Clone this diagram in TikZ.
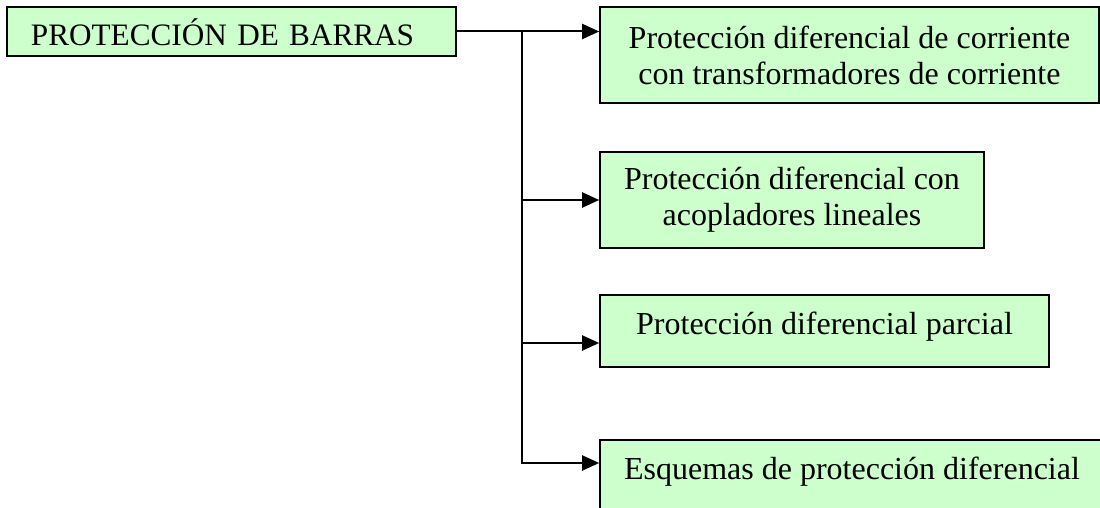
\documentclass[tikz,border=0pt]{standalone}
\usepackage{fontspec}
\setmainfont{Liberation Serif}
\usetikzlibrary{arrows.meta,calc}
\definecolor{boxgreen}{HTML}{CCFFCC}
\begin{document}
\begin{tikzpicture}[x=0.5pt,y=-0.5pt,
  box/.style={draw=black,line width=0.8pt,fill=boxgreen,rectangle,inner sep=0pt,
    font=\fontsize{16}{18}\selectfont,align=center},
  conn/.style={line width=1pt,draw=black},
  arr/.style={conn,-{Triangle[length=8.5pt,width=7.5pt]}}]
\useasboundingbox (0,0) rectangle (1100,508);
\clip (0,0) rectangle (1100,508);
\node[box,minimum height=24.5pt,text width=200.5pt,inner xsep=12pt,align=left,
  font=\fontsize{15.6}{18}\selectfont,
  text height=14.5pt,text depth=0pt] (A) at (231.5,31.5) {PROTECCIÓN DE BARRAS};
\node[box,minimum width=249.5pt,minimum height=48pt] (B) at (849.5,55)
  {Protección diferencial de corriente\\con transformadores de corriente};
\node[box,minimum width=192pt,minimum height=48pt] (C) at (792,200)
  {Protección diferencial con\\acopladores lineales};
\node[box,minimum width=224.5pt,minimum height=36pt,text height=11pt,text depth=7pt] (D) at (824.5,331)
  {Protección diferencial parcial};
\node[box,minimum width=252pt,minimum height=36pt,text height=11pt,text depth=7pt] (E) at (852,476)
  {Esquemas de protección diferencial};
\coordinate (j) at ($(A.east)+(65,0)$);
\coordinate (dIn) at ([yshift=-6pt]D.west);
\coordinate (eIn) at ([yshift=6.5pt]E.west);
\draw[arr] (A.east) -- (A.east -| B.west);
\draw[arr] (j) |- (eIn);
\draw[arr] (j |- C.west) -- (C.west);
\draw[arr] (j |- dIn) -- (dIn);
\end{tikzpicture}
\end{document}
